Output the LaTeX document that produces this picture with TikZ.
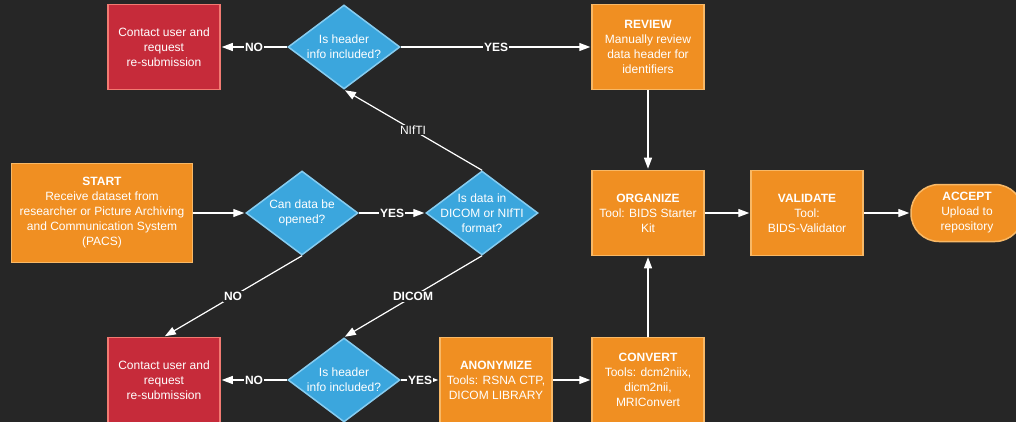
\documentclass[tikz,border=0pt]{standalone}
\usepackage{fontspec}
\setmainfont{Liberation Sans}
\usetikzlibrary{positioning,shapes.geometric,arrows.meta}

\definecolor{bg}{HTML}{262626}
\definecolor{orgfill}{HTML}{F08F22}
\definecolor{orgbd}{HTML}{F8B866}
\definecolor{redfill}{HTML}{C62B3A}
\definecolor{redbd}{HTML}{F27A72}
\definecolor{bluefill}{HTML}{3BA6DD}
\definecolor{bluebd}{HTML}{86CCF0}
\newcommand{\dfont}{\fontsize{12}{15}\selectfont}

\tikzset{
  box/.style={rectangle, draw=orgbd, fill=orgfill, line width=1.5pt, text=white,
    align=center, minimum width=112pt, minimum height=85pt, inner sep=2pt},
  stopbox/.style={box, draw=redbd, fill=redfill},
  decision/.style={diamond, draw=bluebd, fill=bluefill, line width=1.5pt,
    minimum width=112pt, minimum height=84pt, inner sep=0pt},
  dtext/.style={text=white, align=center, inner sep=0pt},
  lbl/.style={fill=bg, text=white, inner sep=1pt, font=\dfont\bfseries}
}

\begin{document}
\begin{tikzpicture}[x=1pt,y=1pt,on grid,shorten >=1pt,font=\dfont,
    >={Triangle[length=11pt,width=8pt]}]
                      \useasboundingbox (0,0) rectangle (1016,-422);
                      \fill[bg] (0,0) rectangle (1016,-422);
                      \node[box, minimum width=181pt, minimum height=99pt] (start) at (102,-213)
                        {\textbf{START}\\Receive dataset from\\researcher or Picture Archiving\\and Communication System\\(PACS)};
                      \node[decision, label={[dtext]center:Can data be\\opened?}] (can_open) [right=200pt of start] {};
                      \node[decision, label={[dtext]center:Is data in\\DICOM or NIfTI\\format?}] (fmt) [right=180pt of can_open] {};
                      \node[decision, label={[dtext]center:Is header\\info included?}] (hdr_1) [above left=166pt and 138pt of fmt] {};
                      \node[stopbox] (contact_1) [left=180pt of hdr_1] {Contact user and\\request\\re-submission};
                      \node[box] (review) [right=304pt of hdr_1] {\textbf{REVIEW}\\Manually review\\data header for\\identifiers};
                      \node[box] (organize) [below=166pt of review] {\textbf{ORGANIZE}\\Tool: BIDS Starter\\Kit};
                      \node[box] (validate) [right=159pt of organize] {\textbf{VALIDATE}\\Tool:\\BIDS-Validator};
                      \node[box, minimum height=57pt, rounded corners=28pt] (accept) [right=160pt of validate] {\textbf{ACCEPT}\\Upload to\\repository};
                      \node[decision, label={[dtext]center:Is header\\info included?}] (hdr_2) [below=333pt of hdr_1] {};
                      \node[stopbox] (contact_2) [left=180pt of hdr_2] {Contact user and\\request\\re-submission};
                      \node[box] (anon) [right=152pt of hdr_2] {\textbf{ANONYMIZE}\\Tools: RSNA CTP,\\DICOM LIBRARY};
                      \node[box] (convert) [right=152pt of anon] {\textbf{CONVERT}\\Tools: dcm2niix,\\dicm2nii,\\MRIConvert};
                      \path[->, white, line width=1.2pt]
                      (start) edge (can_open)
                      (can_open) edge node[lbl] {YES} (fmt)
                      (can_open.south) edge node[lbl] {NO} (contact_2.north)
                      (fmt.north) edge node[lbl, font=\dfont] {NIfTI} (hdr_1.south)
                      (fmt.south) edge node[lbl] {DICOM} (hdr_2.north)
                      (hdr_1) edge node[lbl] {NO} (contact_1)
                      edge node[lbl] {YES} (review)
                      (hdr_2) edge node[lbl] {NO} (contact_2)
                      edge node[lbl] {YES} (anon)
                      (review) edge (organize)
                      (anon) edge (convert)
                      (convert) edge (organize)
                      (organize) edge (validate)
                      (validate) edge (accept);
                  \end{tikzpicture}
\end{document}
